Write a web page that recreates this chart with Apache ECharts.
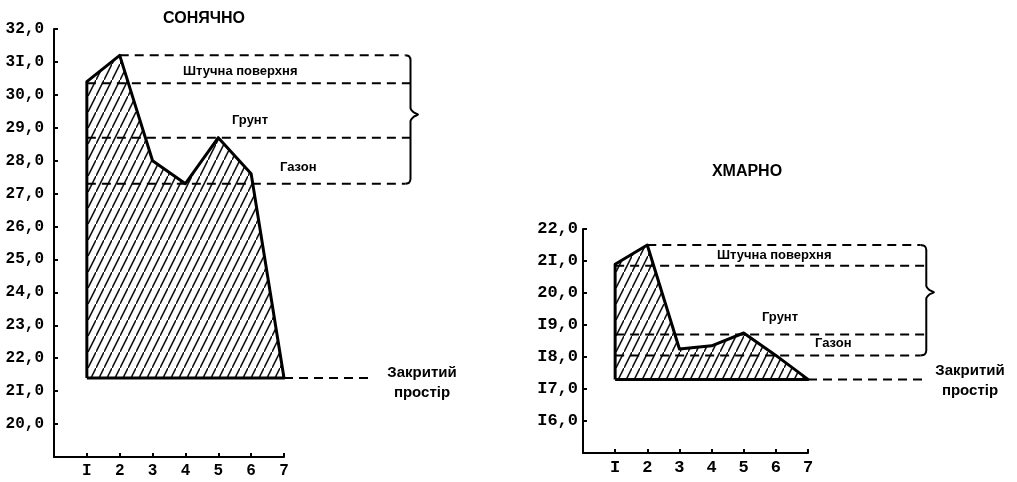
<!DOCTYPE html>
<html><head><meta charset="utf-8">
<script src="https://cdn.jsdelivr.net/npm/echarts@6/dist/echarts.min.js"></script>
<style>html,body{margin:0;padding:0;background:#fff}#c{width:1017px;height:482px}</style>
</head><body><div id="c"></div>
<script>
// ---- data ----
const days = [1, 2, 3, 4, 5, 6, 7];
const xTickLabels = ['', 'I', '2', '3', '4', '5', '6', '7'];
const sunnyTitle = 'СОНЯЧНО';
const cloudyTitle = 'ХМАРНО';
const sunnyValues = [30.4, 31.2, 28.0, 27.3, 28.7, 27.6, 21.4];
const cloudyValues = [20.9, 21.5, 18.25, 18.35, 18.75, 18.05, 17.3];
const sunnyYTicks = [20, 21, 22, 23, 24, 25, 26, 27, 28, 29, 30, 31, 32];
const sunnyYLabels = ['20,0', '2I,0', '22,0', '23,0', '24,0', '25,0', '26,0', '27,0', '28,0', '29,0', '30,0', '3I,0', '32,0'];
const cloudyYTicks = [16, 17, 18, 19, 20, 21, 22];
const cloudyYLabels = ['I6,0', 'I7,0', 'I8,0', 'I9,0', '20,0', '2I,0', '22,0'];
// surface levels: artificial (top), artificial (bottom), soil, lawn
const sunnyLevels = [31.2, 30.35, 28.7, 27.3];
const sunnyLevelStart = [2, 1, 1, 1];
const sunnyClosed = 21.4;
const cloudyLevels = [21.5, 20.85, 18.7, 18.05];
const cloudyLevelStart = [2, 1, 1, 1];
const cloudyClosed = 17.3;
const zoneNames = ['Штучна поверхня', 'Грунт', 'Газон', 'Закритий\nпростір'];

// ---- hatch pattern ----
function hatch() {
  const c = document.createElement('canvas');
  c.width = 8; c.height = 16;
  const g = c.getContext('2d');
  g.strokeStyle = '#111'; g.lineWidth = 1.6;
  g.beginPath(); g.moveTo(-1, 18); g.lineTo(9, -2); g.stroke();
  return c;
}
const pat = { image: hatch(), repeat: 'repeat' };

function axes(gi, ymin, ymax, ticks, labels, font) {
  const x = {
    type: 'value', gridIndex: gi, min: 0, max: 7, interval: 1,
    axisLine: { lineStyle: { color: '#000', width: 2 } },
    axisTick: { inside: true, length: 4, lineStyle: { color: '#000', width: 2 } },
    splitLine: { show: false },
    axisLabel: { margin: 6, color: '#000', fontFamily: 'Liberation Mono', fontWeight: 'bold', fontSize: font, formatter: v => xTickLabels[v] || '' }
  };
  const y = {
    type: 'value', gridIndex: gi, min: ymin, max: ymax, interval: 1,
    axisLine: { show: true, lineStyle: { color: '#000', width: 2 } },
    axisTick: { show: true, inside: true, length: 4, lineStyle: { color: '#000', width: 2 } },
    splitLine: { show: false },
    axisLabel: { margin: gi === 0 ? 10 : 5, color: '#000', fontFamily: 'Liberation Mono', fontWeight: 'bold', fontSize: font,
      formatter: v => { const i = ticks.indexOf(v); return i >= 0 ? labels[i] : ''; } }
  };
  return [x, y];
}
function hiddenAxes(gi, ymin, ymax, xmax) {
  return [
    { type: 'value', gridIndex: gi, min: 0, max: xmax, show: false, splitLine: { show: false } },
    { type: 'value', gridIndex: gi, min: ymin, max: ymax, show: false, splitLine: { show: false } }
  ];
}
const XEXT = 12;
const [x0, y0] = axes(0, 19, 32, sunnyYTicks, sunnyYLabels, 16);
const [x1, y1] = axes(1, 15, 22, cloudyYTicks, cloudyYLabels, 17);
const [x2, y2] = hiddenAxes(2, 19, 32, XEXT);
const [x3, y3] = hiddenAxes(3, 15, 22, XEXT);

function ln(ai, data, style, z, smooth) {
  return { type: 'line', xAxisIndex: ai, yAxisIndex: ai, data: data, showSymbol: false, silent: true,
    lineStyle: style, z: z, smooth: smooth || false };
}

function panelSeries(gi, ai, values, base, levels, starts, endX, bx, tipX, closedEnd, midShift) {
  const s = [];
  const pts = days.map((d, i) => [d, values[i]]);
  s.push({ type: 'line', xAxisIndex: gi, yAxisIndex: gi, data: pts, showSymbol: false, silent: true,
    lineStyle: { width: 0, opacity: 0 }, areaStyle: { color: pat, origin: base, opacity: 1 }, z: 1 });
  const outline = [[days[0], base]].concat(pts).concat([[days[0], base]]);
  s.push(ln(gi, outline, { width: 3, color: '#000', join: 'round' }, 4));
  const dash = { width: 2, color: '#000', type: [9, 6] };
  levels.forEach((lv, i) => {
    const e = (i === 0 || i === 3) ? endX : bx;
    s.push(ln(ai, [[starts[i], lv], [e, lv]], dash, 3));
  });
  s.push(ln(ai, [[days[6], base], [closedEnd, base]], dash, 3));
  const top = levels[0], bot = levels[3], mid = (top + bot) / 2 + midShift;
  const d = bx - endX;
  const br = [[endX, top], [endX + d * 0.7, top - 0.03], [bx, top - 0.15], [bx, mid + 0.2], [bx + (tipX - bx) * 0.4, mid + 0.07], [tipX, mid],
    [bx + (tipX - bx) * 0.4, mid - 0.07], [bx, mid - 0.2], [bx, bot + 0.15], [endX + d * 0.7, bot + 0.03], [endX, bot]];
  s.push(ln(ai, br, { width: 2, color: '#000' }, 3, 0.2));
  return s;
}

const series = [].concat(
  panelSeries(0, 2, sunnyValues, sunnyClosed, sunnyLevels, sunnyLevelStart, 10.7, 10.85, 11.08, 9.63, 0.15),
  panelSeries(1, 3, cloudyValues, cloudyClosed, cloudyLevels, cloudyLevelStart, 10.5, 10.68, 10.92, 10.6, 0.25)
);

const sans = '"Liberation Sans", Arial, sans-serif';
function txt(x, y, text, size, align) {
  return { type: 'text', x: x, y: y, silent: true,
    style: { text: text, fill: '#000', font: 'bold ' + size + 'px ' + sans, align: align || 'left', verticalAlign: 'middle', lineHeight: 20 } };
}

const chart = echarts.init(document.getElementById('c'));
const wL = 230, wR = 225;
chart.setOption({
  animation: false,
  backgroundColor: '#fff',
  grid: [
    { left: 54, top: 29, width: wL, height: 428 },
    { left: 583, top: 229, width: wR, height: 224 },
    { left: 54, top: 29, width: wL / 7 * XEXT, height: 428 },
    { left: 583, top: 229, width: wR / 7 * XEXT, height: 224 }
  ],
  xAxis: [x0, x1, x2, x3],
  yAxis: [y0, y1, y2, y3],
  series: series,
  graphic: [
    txt(204, 19, sunnyTitle, 16, 'center'),
    txt(183, 71, zoneNames[0], 13),
    txt(232, 120, zoneNames[1], 13),
    txt(280, 167, zoneNames[2], 13),
    txt(422, 383, zoneNames[3], 15, 'center'),
    txt(747, 172, cloudyTitle, 16, 'center'),
    txt(717, 255, zoneNames[0], 13),
    txt(762, 317, zoneNames[1], 13),
    txt(815, 343, zoneNames[2], 13),
    txt(970, 381, zoneNames[3], 15, 'center')
  ]
});
</script></body></html>
